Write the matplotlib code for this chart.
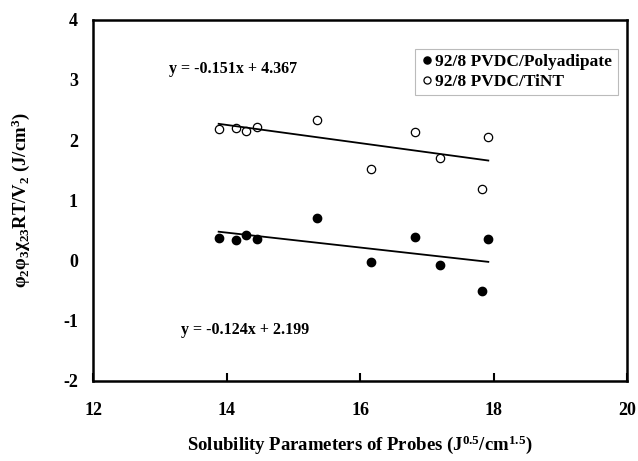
import matplotlib
matplotlib.use('Agg')
import matplotlib.pyplot as plt
import numpy as np

# solubility parameters of the probes
delta = [13.88, 14.14, 14.29, 14.45, 15.35, 16.16, 16.82, 17.20, 17.83, 17.92]
# interaction values for the two blends
polyadipate = [0.38, 0.34, 0.42, 0.36, 0.71, -0.03, 0.39, -0.08, -0.51, 0.36]
tint = [2.19, 2.21, 2.16, 2.22, 2.33, 1.52, 2.14, 1.70, 1.18, 2.06]
# trend line coefficients (slope, intercept)
fit_tint = (-0.151, 4.367)
fit_poly = (-0.124, 2.199)
xticks = [12, 14, 16, 18, 20]
yticks = [-2, -1, 0, 1, 2, 3, 4]

plt.rcParams['font.family'] = 'Liberation Serif'
plt.rcParams['font.weight'] = 'bold'
plt.rcParams['axes.unicode_minus'] = False
plt.rcParams['mathtext.fontset'] = 'custom'
plt.rcParams['mathtext.rm'] = 'Liberation Serif:bold'
plt.rcParams['mathtext.it'] = 'Liberation Serif:bold'
plt.rcParams['mathtext.bf'] = 'Liberation Serif:bold'

fig = plt.figure(figsize=(6.38, 4.61), dpi=100)
ax = fig.add_axes([0.146, 0.174, 0.837, 0.783])

ax.plot(delta, polyadipate, 'o', ms=6, mfc='black', mec='black',
        label='92/8 PVDC/Polyadipate')
ax.plot(delta, tint, 'o', ms=6, mfc='white', mec='black', mew=0.9,
        label='92/8 PVDC/TiNT')

xs = np.array([min(delta), max(delta)])
ax.plot(xs, fit_tint[0] * xs + fit_tint[1], color='black', lw=1.3)
ax.plot(xs, fit_poly[0] * xs + fit_poly[1], color='black', lw=1.3)

ax.text(14.09, 3.18, 'y = -0.151x + 4.367', ha='center', va='center',
        fontsize=11.5, fontweight='bold')
ax.text(14.28, -1.16, 'y = -0.124x + 2.199', ha='center', va='center',
        fontsize=11.5, fontweight='bold')

ax.set_xlim(12, 20)
ax.set_ylim(-2, 4)
ax.set_xticks(xticks)
ax.set_yticks(yticks)
ax.tick_params(axis='x', direction='in', length=6, width=1.5, pad=15,
               labelsize=13)
ax.tick_params(axis='y', direction='in', length=0, width=1.5, pad=11,
               labelsize=13)
for s in ax.spines.values():
    s.set_linewidth(1.8)

ax.set_xlabel(r'Solubility Parameters of Probes (J$^{0.5}$/cm$^{1.5}$)',
              fontsize=13.5, fontweight='bold')
ax.xaxis.set_label_coords(0.5, -0.147)
ax.set_ylabel(r'$φ_2φ_3χ_{23}$RT/V$_2$ (J/cm$^3$)', fontsize=13.5,
              fontweight='bold')
ax.yaxis.set_label_coords(-0.114, 0.5)

leg = ax.legend(loc='upper right', bbox_to_anchor=(0.982, 0.92),
                fontsize=12.5, frameon=True, fancybox=False, handletextpad=0.1,
                handlelength=0.8, borderpad=0.3, labelspacing=0.2,
                borderaxespad=0, markerscale=0.85)
leg.get_frame().set_edgecolor('#aaaaaa')
leg.get_frame().set_linewidth(0.8)
for t in leg.get_texts():
    t.set_fontweight('bold')

fig.savefig('out.png', dpi=100)
